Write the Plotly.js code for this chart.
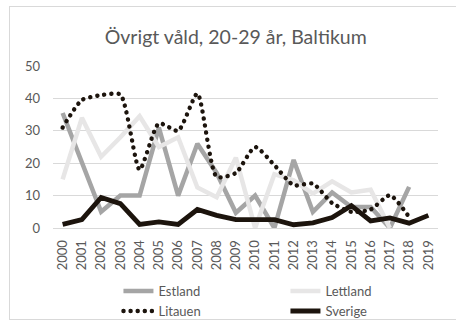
<!DOCTYPE html>
<html>
<head>
<meta charset="utf-8">
<script src="https://cdn.plot.ly/plotly-3.0.1.min.js"></script>
<style>
  html, body { margin: 0; padding: 0; background: #ffffff; }
  #wrap { position: relative; width: 456px; height: 323px; overflow: hidden; }
  #frame { position: absolute; left: 9px; top: 6px; width: 460px; height: 314px;
           border: 1px solid #d9d9d9; box-sizing: border-box; pointer-events: none; }
  #chart { position: absolute; left: 0; top: 0; width: 456px; height: 323px; }
</style>
</head>
<body>
<div id="wrap">
  <div id="chart"></div>
  <div id="frame"></div>
</div>
<script>
// Years on the category axis
const years = ["2000","2001","2002","2003","2004","2005","2006","2007","2008","2009",
               "2010","2011","2012","2013","2014","2015","2016","2017","2018","2019"];

// Övrigt våld, 20-29 år – one series per country (null = no value)
const estland  = [35.5, 20.3, 5, 10, 10, 31, 10, 26, 17, 4.7, 10, 0, 21, 5, 11, 6.5, 6.5, 0, 12.7, null];
const lettland = [15, 34, 22, 28, 34.5, 25, 28, 12.5, 9.5, 21.7, 0, 16.6, 14.7, 10.6, 14.4, 11, 11.8, 0, null, null];
const litauen  = [31, 39.5, 41, 41.2, 18, 32.3, 30, 41.5, 15.8, 17, 25, 19.4, 13.2, 13.7, 7.7, 5, 5.7, 10.1, 3.4, null];
const sverige  = [1.1, 2.6, 9.4, 7.5, 1.1, 1.9, 1.1, 5.7, 3.9, 2.6, 2.6, 2.6, 1.0, 1.6, 3.2, 6.9, 2.2, 3.1, 1.5, 3.9];

const txt = "#595959";
const font = "Lato, 'Open Sans', sans-serif";

const traces = [
  { name: "Estland",  y: estland,  line: { color: "#a5a5a5", width: 4.5 } },
  { name: "Lettland", y: lettland, line: { color: "#e7e6e6", width: 4.5 } },
  { name: "Litauen",  y: litauen,  line: { color: "#1c140d", width: 4.4, dash: "0.1px,7px", shape: "spline", smoothing: 0.6 } },
  { name: "Sverige",  y: sverige,  line: { color: "#1c140d", width: 4.8 } }
].map(t => Object.assign({ type: "scatter", mode: "lines", x: years, connectgaps: false, hoverinfo: "skip" }, t));

const layout = {
  width: 456, height: 323,
  margin: { l: 53, r: 18, t: 66, b: 95, autoexpand: false },
  paper_bgcolor: "rgba(0,0,0,0)",
  plot_bgcolor: "rgba(0,0,0,0)",
  font: { family: font, color: txt, size: 13 },
  title: {
    text: "Övrigt våld, 20-29 år, Baltikum",
    font: { family: font, size: 19.5, color: txt },
    x: 0.517, xref: "container", xanchor: "center",
    y: 0.885, yref: "container", yanchor: "middle"
  },
  xaxis: {
    type: "category",
    range: [-0.5, 19.5],
    tickangle: -90,
    showgrid: false,
    zeroline: false,
    showline: true, linecolor: "#d9d9d9", linewidth: 1,
    ticks: "",
    ticklabelstandoff: 6,
    tickfont: { family: font, size: 13, color: txt },
    fixedrange: true
  },
  yaxis: {
    range: [0, 50],
    dtick: 10,
    showgrid: true, gridcolor: "#d9d9d9", gridwidth: 1,
    zeroline: false,
    showline: false,
    ticks: "",
    ticklabelstandoff: 12,
    tickfont: { family: font, size: 13, color: txt },
    fixedrange: true
  },
  showlegend: true,
  legend: {
    orientation: "h",
    x: 0.17, xanchor: "left",
    y: 0.145, yref: "container", yanchor: "top",
    entrywidth: 122,
    font: { family: font, size: 13, color: txt },
    bgcolor: "rgba(0,0,0,0)"
  }
};

Plotly.newPlot("chart", traces, layout, { staticPlot: true, displayModeBar: false }).then(() => {
  // round caps turn the dotted Litauen dash into round dots
  document.querySelectorAll("#chart path.js-line, #chart path.legendlines").forEach(p => {
    if (p.style.strokeDasharray && p.style.strokeDasharray.indexOf("0.1") === 0) {
      p.style.strokeLinecap = "round";
    }
  });
});
</script>
</body>
</html>
